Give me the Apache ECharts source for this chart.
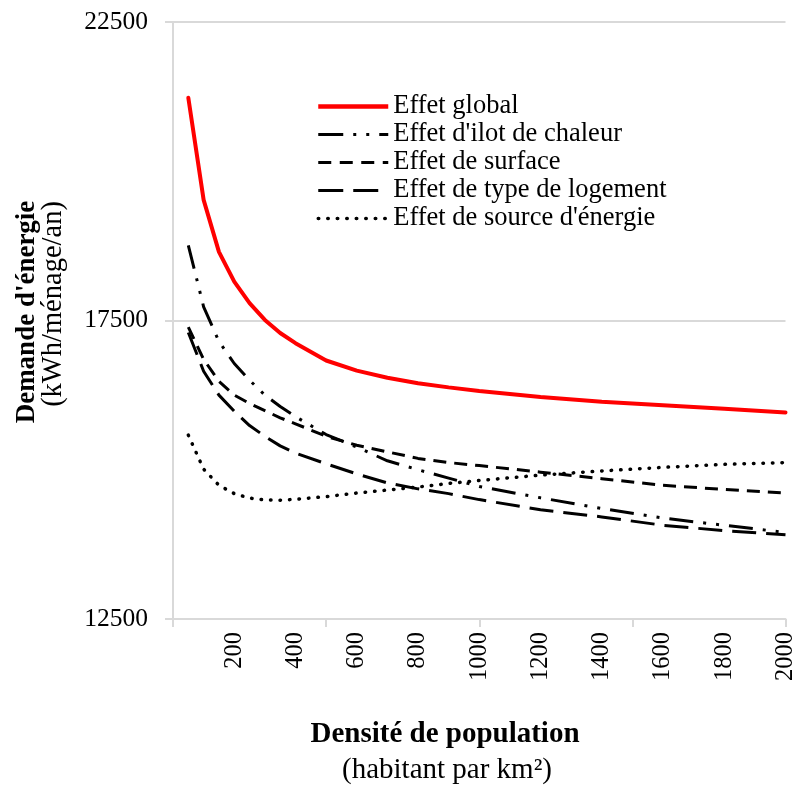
<!DOCTYPE html>
<html>
<head>
<meta charset="utf-8">
<script src="https://cdn.jsdelivr.net/npm/echarts@6/dist/echarts.min.js"></script>
<style>
html,body{margin:0;padding:0;background:#fff;}
#chart{width:798px;height:787px;}
</style>
</head>
<body>
<div id="chart"></div>
<script>
// Densité de population (habitant par km²)
const densite = [50,100,150,200,250,300,350,400,500,600,700,800,900,1000,1200,1400,1600,1800,2000];
// Demande d'énergie (kWh/ménage/an)
const effetGlobal   = [21230,19520,18650,18150,17790,17510,17290,17120,16830,16660,16540,16450,16380,16320,16220,16140,16080,16020,15960];
const effetIlot     = [18760,17730,17150,16780,16500,16250,16060,15890,15590,15380,15150,15000,14860,14720,14530,14350,14190,14070,13950];
const effetSurface  = [17390,16850,16480,16250,16110,15990,15870,15770,15560,15410,15300,15190,15120,15070,14960,14850,14740,14670,14610];
const effetLogement = [17300,16650,16250,15980,15740,15560,15400,15280,15100,14930,14780,14680,14600,14500,14330,14210,14070,13980,13910];
const effetSource   = [15580,15010,14740,14600,14525,14495,14490,14505,14550,14610,14660,14710,14770,14820,14910,14980,15040,15090,15120];

const seriesNames = ["Effet global","Effet d'ilot de chaleur","Effet de surface","Effet de type de logement","Effet de source d'énergie"];
const xLabelValues = [200,400,600,800,1000,1200,1400,1600,1800,2000];
const xTickValues = [0,500,1000,1500,2000];
const yLabelValues = [12500,17500,22500];

const FONT = "'Liberation Serif','Times New Roman',serif";
const pair = arr => densite.map((d,i)=>[d,arr[i]]);

const styles = [
  {color:'#ff0000', width:4, type:'solid', cap:'round'},
  {color:'#000', width:3, type:[24,10,3,10,3,10], cap:'butt'},
  {color:'#000', width:3, type:[13,8], cap:'butt'},
  {color:'#000', width:3, type:[24,10], cap:'butt'},
  {color:'#000', width:3.5, type:[0.5,9], cap:'round'}
];
const legendStyles = [
  {color:'#ff0000', width:4.5, type:'solid', cap:'butt'},
  {color:'#000', width:3, type:[25,10,3,10,3,10], cap:'butt'},
  {color:'#000', width:3, type:[13,8.5], cap:'butt'},
  {color:'#000', width:3, type:[25,10], cap:'butt'},
  {color:'#000', width:3.5, type:[0.5,9], cap:'round'}
];
const datasets = [effetGlobal,effetIlot,effetSurface,effetLogement,effetSource];

const chart = echarts.init(document.getElementById('chart'), null, {renderer:'canvas'});
chart.setOption({
  animation:false,
  backgroundColor:'#fff',
  grid:{left:173, right:12, top:22, bottom:168, containLabel:false},
  legend:{
    orient:'vertical', left:311, top:88,
    itemWidth:70, itemHeight:14, itemGap:1,
    itemStyle:{color:'rgba(0,0,0,0)', opacity:0, borderWidth:0},
    textStyle:{fontFamily:FONT, fontSize:26.5, color:'#000'},
    data:seriesNames.map((n,i)=>({name:n, lineStyle:legendStyles[i]}))
  },
  xAxis:{
    type:'value', min:0, max:2000, interval:100,
    axisLine:{show:true, lineStyle:{color:'#d9d9d9', width:2}},
    axisTick:{show:true, length:8, customValues:xTickValues, lineStyle:{color:'#d9d9d9', width:2}},
    axisLabel:{show:true, customValues:xLabelValues, rotate:90, margin:13, fontFamily:FONT, fontSize:24.5, color:'#000',
      formatter:v=>String(v)},
    splitLine:{show:false}
  },
  yAxis:{
    type:'value', min:12500, max:22500, interval:5000,
    axisLine:{show:true, lineStyle:{color:'#d9d9d9', width:2}},
    axisTick:{show:true, length:8, customValues:yLabelValues, lineStyle:{color:'#d9d9d9', width:2}},
    axisLabel:{show:true, customValues:yLabelValues, margin:25, fontFamily:FONT, fontSize:25.5, color:'#000',
      formatter:v=>String(v)},
    splitLine:{show:true, lineStyle:{color:'#d9d9d9', width:2}}
  },
  series: datasets.map((arr,i)=>({
    name:seriesNames[i], type:'line', data:pair(arr), symbol:'none', smooth:false,
    lineStyle:{color:styles[i].color, width:styles[i].width, type:styles[i].type, cap:styles[i].cap},
    itemStyle:{color:styles[i].color},
    z: i===0 ? 3 : 2
  })),
  graphic:[
    {type:'text', x:27, y:312, rotation:Math.PI/2,
      style:{text:"Demande d'énergie", font:"bold 27px "+FONT, fill:'#000', textAlign:'center', textVerticalAlign:'middle'}},
    {type:'text', x:54, y:304, rotation:Math.PI/2,
      style:{text:"(kWh/ménage/an)", font:"28.5px "+FONT, fill:'#000', textAlign:'center', textVerticalAlign:'middle'}},
    {type:'text', x:445, y:735,
      style:{text:"Densité de population", font:"bold 29px "+FONT, fill:'#000', textAlign:'center', textVerticalAlign:'middle'}},
    {type:'text', x:447, y:770,
      style:{text:"(habitant par km²)", font:"29px "+FONT, fill:'#000', textAlign:'center', textVerticalAlign:'middle'}}
  ]
});
</script>
</body>
</html>
